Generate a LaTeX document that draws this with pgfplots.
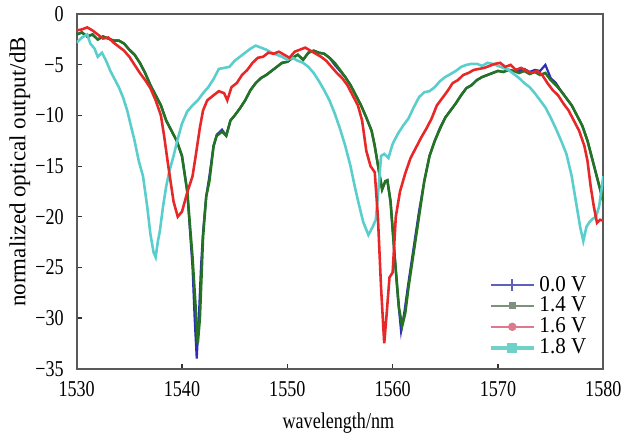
\documentclass[border=0pt]{standalone}
\usepackage{pgfplots}
\pgfplotsset{compat=1.18}
\usepackage{pgfplotstable}
\usepackage{fontspec}
\setmainfont{Liberation Serif}
\newfontfamily\cond{Liberation Serif}[FakeStretch=0.8]
\newfontfamily\lcond{Liberation Serif}[FakeStretch=0.93]
\definecolor{cblue}{RGB}{45,45,185}
\definecolor{cgreen}{RGB}{35,115,35}
\definecolor{cred}{RGB}{232,40,40}
\definecolor{ccyan}{RGB}{90,205,205}
\definecolor{lblue}{RGB}{95,95,190}
\definecolor{lgreen}{RGB}{125,145,125}
\definecolor{lred}{RGB}{222,120,140}
\definecolor{lcyan}{RGB}{110,210,200}

\pgfplotstableread{
x y
1530 -2.0
1530.5 -1.8
1531 -2.2
1531.5 -2.0
1532 -2.5
1532.5 -2.2
1533 -2.4
1533.5 -2.6
1534 -2.6
1534.5 -2.9
1535 -3.5
1535.5 -4.0
1536 -4.8
1536.5 -5.8
1537 -7.0
1537.5 -8.0
1538 -9.0
1538.5 -10.5
1539 -11.5
1539.5 -12.5
1540 -14.0
1540.5 -17.5
1541 -25
1541.2 -30
1541.4 -34
1541.6 -30
1541.8 -25
1542 -21.5
1542.3 -18
1542.6 -16.0
1543 -13
1543.3 -11.9
1543.8 -11.4
1544.2 -12.0
1544.6 -10.5
1545 -10
1545.5 -9.3
1546 -8.5
1546.5 -7.5
1547 -6.8
1547.5 -6.3
1548 -6.0
1548.5 -5.6
1549 -5.2
1549.5 -4.8
1550 -4.7
1550.5 -4.3
1551 -4.0
1551.5 -4.5
1552 -3.8
1552.5 -3.6
1553 -3.8
1553.5 -3.9
1554 -4.3
1554.5 -5.0
1555 -5.6
1555.5 -6.2
1556 -7.0
1556.5 -8.0
1557 -9.0
1557.5 -10.2
1558 -11.5
1558.3 -13
1558.7 -15.5
1559 -17.3
1559.3 -16.5
1559.5 -16.4
1559.8 -18.5
1560.2 -24
1560.5 -28
1560.8 -31.3
1561.1 -29.5
1561.5 -26.5
1562 -23
1562.5 -19.5
1563 -16.5
1563.5 -14
1564 -12.5
1564.5 -11.2
1565 -10.2
1565.5 -9.5
1566 -8.8
1566.5 -8.0
1567 -7.3
1567.5 -7.0
1568 -6.5
1568.5 -6.2
1569 -6.0
1569.5 -5.8
1570 -5.6
1570.5 -5.7
1571 -5.5
1571.5 -5.6
1572 -5.6
1572.5 -5.4
1573 -5.7
1573.5 -5.5
1574 -5.6
1574.5 -5.0
1575 -6.3
1575.5 -6.8
1576 -7.6
1576.5 -8.3
1577 -9.0
1577.5 -10.0
1578 -11.0
1578.5 -12.5
1579 -14.5
1579.5 -16.5
1580 -18.5
}\blueT

\pgfplotstableread{
x y
1530 -2.0
1530.5 -1.8
1531 -2.2
1531.5 -2.0
1532 -2.5
1532.5 -2.2
1533 -2.4
1533.5 -2.6
1534 -2.6
1534.5 -2.9
1535 -3.5
1535.5 -4.0
1536 -4.8
1536.5 -5.8
1537 -7.0
1537.5 -8.0
1538 -9.0
1538.5 -10.5
1539 -11.5
1539.5 -12.5
1540 -14.0
1540.5 -17.5
1541 -24
1541.3 -29
1541.5 -32.5
1541.7 -30
1542 -22
1542.3 -18
1542.6 -16.5
1543 -13
1543.3 -12
1543.8 -11.6
1544.2 -12.0
1544.6 -10.5
1545 -10
1545.5 -9.3
1546 -8.5
1546.5 -7.5
1547 -6.8
1547.5 -6.3
1548 -6.0
1548.5 -5.6
1549 -5.2
1549.5 -4.8
1550 -4.7
1550.5 -4.3
1551 -4.0
1551.5 -4.5
1552 -3.8
1552.5 -3.6
1553 -3.8
1553.5 -3.9
1554 -4.3
1554.5 -4.8
1555 -5.5
1555.5 -6.2
1556 -7.0
1556.5 -8.0
1557 -9.0
1557.5 -10.2
1558 -11.5
1558.3 -13
1558.7 -15.5
1559 -17.3
1559.3 -16.5
1559.5 -16.4
1559.8 -18.5
1560.2 -24
1560.6 -29
1560.9 -30.8
1561.2 -29.5
1561.5 -27
1562 -23.5
1562.5 -20
1563 -16.5
1563.5 -14
1564 -12.5
1564.5 -11.3
1565 -10.2
1565.5 -9.5
1566 -8.8
1566.5 -8.0
1567 -7.3
1567.5 -7.0
1568 -6.5
1568.5 -6.2
1569 -6.0
1569.5 -5.8
1570 -5.6
1570.5 -5.7
1571 -5.5
1571.5 -5.6
1572 -5.8
1572.5 -5.6
1573 -5.9
1573.5 -5.7
1574 -6.0
1574.5 -5.8
1575 -6.5
1575.5 -7.0
1576 -7.6
1576.5 -8.3
1577 -9.0
1577.5 -10.0
1578 -11.0
1578.5 -12.5
1579 -14.5
1579.5 -16.5
1580 -18.5
}\greenT

\pgfplotstableread{
x y
1530 -1.6
1530.5 -1.5
1531 -1.3
1531.5 -1.6
1532 -2.0
1532.5 -2.4
1533 -2.3
1533.5 -2.8
1534 -3.2
1534.5 -3.6
1535 -4.2
1535.5 -5.0
1536 -5.8
1536.5 -6.5
1537 -7.3
1537.5 -8.5
1538 -10.0
1538.3 -12
1538.7 -15
1539.2 -18.5
1539.6 -20.0
1540 -19.5
1540.5 -17.6
1541 -16
1541.3 -14
1541.7 -11.2
1542 -9.5
1542.4 -8.5
1543 -8.0
1543.5 -7.6
1544 -7.8
1544.3 -8.5
1544.7 -7.2
1545.2 -6.8
1545.7 -6.0
1546.2 -5.5
1546.7 -4.8
1547.2 -4.3
1547.7 -4.2
1548.2 -3.8
1548.7 -3.9
1549.2 -3.7
1549.7 -4.0
1550.2 -4.3
1550.7 -3.7
1551.2 -3.5
1551.7 -3.3
1552.2 -3.6
1552.7 -3.9
1553.2 -4.2
1553.7 -4.6
1554.2 -5.2
1554.7 -5.8
1555.2 -6.3
1555.7 -7.0
1556.2 -8.0
1556.7 -9.0
1557.1 -10.5
1557.5 -13.5
1557.9 -15.0
1558.3 -15.6
1558.6 -20
1558.9 -27
1559.2 -32.5
1559.4 -30
1559.7 -26
1560.0 -25.5
1560.3 -20
1560.7 -17.5
1561.2 -15.7
1561.7 -14.2
1562.2 -13.2
1562.7 -12.2
1563.2 -11.3
1563.7 -10.3
1564.2 -9.0
1564.7 -8.3
1565.2 -7.6
1565.7 -6.8
1566.2 -6.5
1566.7 -6.0
1567.2 -5.8
1567.7 -5.5
1568.2 -5.4
1568.7 -5.3
1569.2 -5.1
1569.7 -4.9
1570.2 -4.8
1570.7 -5.2
1571.2 -5.0
1571.7 -5.5
1572.2 -5.3
1572.7 -5.6
1573.2 -5.8
1573.7 -5.6
1574.2 -6.0
1574.7 -6.8
1575.2 -7.5
1575.7 -8.0
1576.2 -8.8
1576.7 -9.5
1577.2 -10.5
1577.7 -11.5
1578.2 -13.0
1578.5 -14.5
1578.8 -17
1579.1 -19
1579.4 -20.6
1579.7 -20.3
1580 -20.4
}\redT

\pgfplotstableread{
x y
1530 -2.8
1530.5 -2.3
1531 -2.0
1531.3 -2.9
1531.7 -3.4
1532 -4.2
1532.4 -3.8
1532.8 -4.6
1533.2 -5.6
1533.6 -6.4
1534 -7.2
1534.4 -8.2
1534.8 -9.5
1535.1 -10.8
1535.5 -12.5
1535.9 -14.5
1536.3 -16.0
1536.7 -19.0
1537.0 -21.7
1537.3 -23.5
1537.5 -24.0
1537.7 -22.5
1537.9 -21.4
1538.2 -19.0
1538.5 -17.0
1538.8 -15.5
1539.2 -14.0
1539.6 -12.3
1540.0 -10.8
1540.5 -9.6
1541.0 -9.0
1541.5 -8.5
1542 -7.8
1542.5 -7.2
1543 -6.4
1543.5 -5.4
1544 -5.3
1544.5 -5.2
1545 -4.6
1545.5 -4.2
1546 -3.8
1546.5 -3.4
1547 -3.1
1547.5 -3.3
1548 -3.5
1548.5 -3.8
1549 -4.0
1549.5 -4.2
1550 -4.5
1550.5 -4.3
1551 -4.6
1551.5 -4.8
1552 -5.2
1552.5 -5.8
1553 -6.6
1553.5 -7.5
1554 -8.5
1554.5 -9.8
1555 -11.3
1555.5 -13.0
1556 -15.0
1556.4 -17.0
1556.8 -18.8
1557.2 -20.5
1557.7 -21.8
1558.1 -21.0
1558.4 -20.3
1558.7 -16.7
1558.9 -14.0
1559.2 -13.8
1559.6 -14.2
1560 -12.8
1560.5 -11.8
1561 -11.0
1561.5 -10.3
1562 -9.2
1562.5 -8.2
1563 -7.7
1563.5 -7.6
1564 -7.2
1564.5 -6.6
1565 -6.2
1565.5 -5.9
1566 -5.6
1566.5 -5.2
1567 -5.0
1567.5 -4.9
1568 -4.9
1568.5 -5.1
1569 -4.8
1569.5 -4.9
1570 -5.1
1570.5 -5.3
1571 -5.5
1571.5 -5.9
1572 -6.3
1572.5 -6.8
1573 -7.2
1573.5 -7.8
1574 -8.5
1574.5 -9.2
1575 -10.2
1575.5 -11.3
1576 -12.5
1576.5 -13.8
1577 -16
1577.4 -18.5
1577.8 -21
1578.1 -22.4
1578.4 -21
1578.7 -20.5
1579 -20.2
1579.3 -20.0
1579.6 -19.0
1579.8 -17.5
1580 -16.0
}\cyanT

\begin{document}
\begin{tikzpicture}
\begin{axis}[
  scale only axis,
  width=264.5bp, height=178bp,
  xmin=1530, xmax=1580, ymin=-35, ymax=0,
  font=\cond\fontsize{11.4}{12}\selectfont,
  xtick={1530,1540,1550,1560,1570,1580},
  xticklabels={1530,1540,1550,1560,1570,1580},
  ytick={0,-5,-10,-15,-20,-25,-30,-35},
  yticklabels={0,−5,−10,−15,−20,−25,−30,−35},
  xtick pos=left, ytick pos=left,
  tick align=inside,
  major tick length=2.5bp,
  tick style={black!80, line width=0.6pt},
  axis line style={black!65, line width=0.9pt},
  xticklabel style={yshift=-3bp},
  yticklabel style={xshift=-3bp},
  xlabel={wavelength/nm},
  ylabel={normalized optical output/dB},
  every axis x label/.style={at={(axis description cs:0.497,-0.1545)}, anchor=center},
  every axis y label/.style={at={(axis description cs:-0.108,0.555)}, rotate=90, anchor=center,
    font=\rmfamily\fontsize{11.6}{12}\selectfont},
  legend style={draw=none, fill=none, at={(axis description cs:0.771,0.285)}, anchor=north west,
    row sep=-2.5pt, font=\lcond\fontsize{11.4}{12}\selectfont},
  legend cell align=left,
  legend image code/.code={\draw[mark repeat=2,mark phase=2] plot coordinates {(0cm,0cm) (0.38cm,0cm) (0.76cm,0cm)};},
]
\addplot[cblue, line width=1.1pt, forget plot] table[x=x,y=y] {\blueT};
\addplot[cgreen, line width=1.3pt, forget plot] table[x=x,y=y] {\greenT};
\addplot[ccyan, line width=1.3pt, forget plot] table[x=x,y=y] {\cyanT};
\addplot[cred, line width=1.3pt, forget plot] table[x=x,y=y] {\redT};
\addlegendimage{lblue, line width=1pt, mark=|, mark size=3pt, mark options={line width=0.8pt}}
\addlegendentry{0.0 V}
\addlegendimage{lgreen, line width=1pt, mark=square*, mark size=1.3pt}
\addlegendentry{1.4 V}
\addlegendimage{lred, line width=1pt, mark=*, mark size=1.6pt}
\addlegendentry{1.6 V}
\addlegendimage{lcyan, line width=1.8pt, mark=square*, mark size=1.6pt}
\addlegendentry{1.8 V}
\end{axis}
\path ([xshift=-38.5bp,yshift=-33.5bp]current axis.south west) rectangle ([xshift=11bp,yshift=7bp]current axis.north east);
\end{tikzpicture}
\end{document}
